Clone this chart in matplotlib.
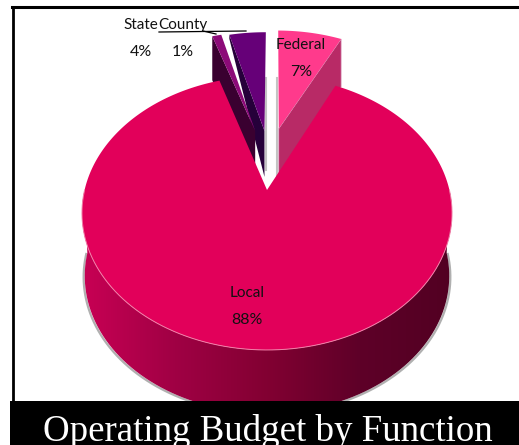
import numpy as np
import matplotlib.pyplot as plt
from matplotlib.colors import LinearSegmentedColormap
from matplotlib.patches import PathPatch, Polygon, Rectangle
from matplotlib.path import Path

# pie values, clockwise from 12 o'clock
labels = ['Federal', 'Local', 'County', 'State']
shares = [7, 88, 1, 4]
share_text = ['7%', '88%', '1%', '4%']
top_colors = ['#ff3a8c', '#e2005a', '#8c0a78', '#660078']
wall_colors = ['#b82a66', '#e2005a', '#3a0030', '#26003a']
label_pos = [(301, 45), (247, 293), (183, 25), (141, 25)]
# explode offset of each slice in pie radius units
explode = [(0.07, 0.50), (0, 0), (-0.07, 0.48), (-0.015, 0.48)]

label_font = ['Lato', 'DejaVu Sans']

# perspective of the tilted disc
cx, cy = 267, 190
kx, ky, persp = 182.4, 133.1, 0.168
depth = 63
start = 0.4


def project(u, v):
    d = 1 + persp * v
    return cx + kx * u / d, cy - ky * v / d


def arc(a0, a1, off=(0, 0), n=120):
    t = np.radians(np.linspace(a0, a1, n))
    return project(np.sin(t) + off[0], np.cos(t) + off[1])


fig = plt.figure(figsize=(5.19, 4.45), dpi=100)
ax = fig.add_axes([0, 0, 1, 1])
ax.axis('off')

edges = start + np.cumsum([0] + shares) * 3.6

# local slice side with its gradient
x, y = arc(90, 270, n=200)
xb = cx + (x - cx) * 0.985
yb = y + depth
side = PathPatch(Path(np.c_[np.r_[x, xb[::-1]], np.r_[y, yb[::-1]]]), fc='none', ec='none')
ax.add_patch(side)
ax.plot(cx + (xb - cx) * 1.006, yb + 1, color='#b0b0b0', lw=1.6, zorder=1)
grad = LinearSegmentedColormap.from_list('side', ['#c80054', '#a00044', '#820032', '#5e0028', '#520022'])
im = ax.imshow(np.linspace(0, 1, 256)[None, :], cmap=grad, aspect='auto', extent=(82, 453, 445, 0), zorder=2)
im.set_clip_path(side)

# shadows on the gap
ax.plot([266, 266], [78, 170], color='#c4c4c4', lw=1.5, zorder=2)
ax.plot([277, 277], [78, 175], color='#c4c4c4', lw=1.5, zorder=2)

# exploded slices: cut faces first
for i in [3, 2, 0]:
    off = explode[i]
    apex = project(off[0], off[1])
    if i == 0:
        a = edges[1]
        outer = 48
    elif i == 2:
        a = edges[2]
        outer = 44
    else:
        a = edges[3]
        outer = 4
    corner = project(np.sin(np.radians(a)) + off[0], np.cos(np.radians(a)) + off[1])
    wall = [corner, apex, (apex[0], apex[1] + 46), (corner[0], corner[1] + outer)]
    ax.add_patch(Polygon(wall, fc=wall_colors[i], ec='#d8a0c0' if i == 0 else 'none', lw=0.5, zorder=3))

for i in [3, 2, 0]:
    x, y = arc(edges[i], edges[i + 1], explode[i])
    apex = project(explode[i][0], explode[i][1])
    ax.add_patch(Polygon(np.c_[np.r_[apex[0], x], np.r_[apex[1], y]], fc=top_colors[i], ec='none', zorder=4))

# local slice top
x, y = arc(edges[1], edges[2], n=300)
ax.add_patch(Polygon(np.c_[np.r_[cx, x], np.r_[cy, y]], fc=top_colors[1], ec='none', zorder=5))
ax.plot(*arc(90, 270, n=200), color='#f27fa8', lw=0.7, zorder=5)

# leader lines
ax.plot([159, 246], [32, 31], color='black', lw=0.9, zorder=6)
ax.plot([203, 216], [31, 34], color='black', lw=0.9, zorder=6)

for i in range(len(labels)):
    px, py = label_pos[i]
    ax.text(px, py, labels[i], ha='center', va='center', fontsize=11, family=label_font, color='#111111', zorder=7)
    ax.text(px, py + 27, share_text[i], ha='center', va='center', fontsize=11.5, family=label_font, color='#111111', zorder=7)

# frame and title band
ax.plot([12.5, 12.5], [7, 401], color='black', lw=2, zorder=8)
ax.plot([12, 519], [7, 7], color='black', lw=2.2, zorder=8)
ax.add_patch(Rectangle((10, 401), 509, 44, fc='black', ec='none', zorder=8))
ax.text(268, 441, 'Operating Budget by Function', ha='center', va='baseline', color='white',
        fontsize=26.6, family=['Liberation Serif', 'DejaVu Serif'], zorder=9)

ax.set_xlim(0, 519)
ax.set_ylim(445, 0)
fig.savefig('out.png', dpi=100, facecolor='white')
